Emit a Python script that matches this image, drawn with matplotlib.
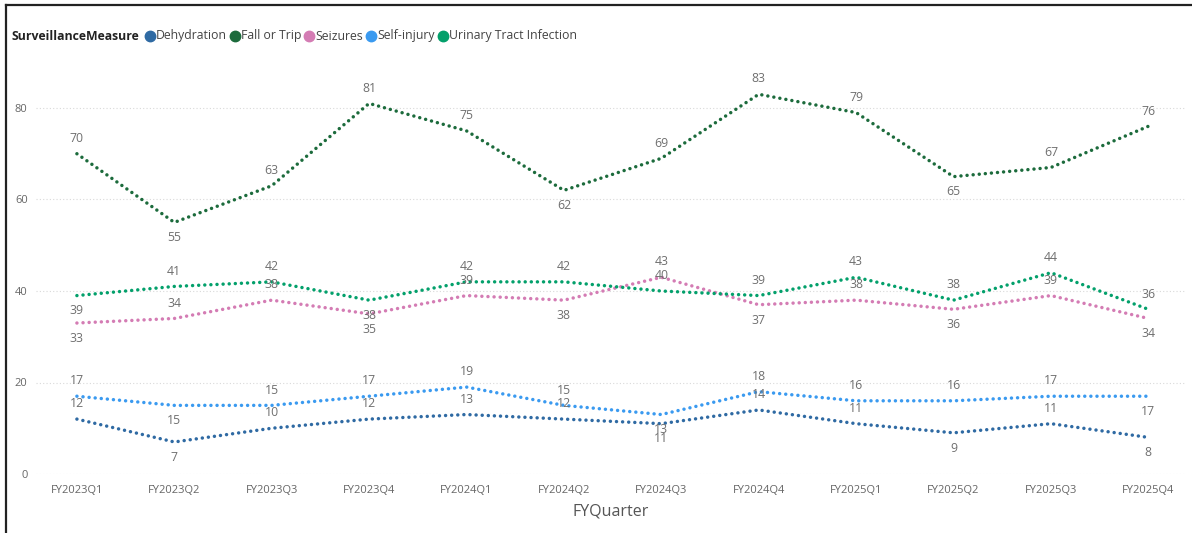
import matplotlib
matplotlib.use("Agg")
import matplotlib.pyplot as plt
from matplotlib.lines import Line2D

# ---- data -------------------------------------------------------------
quarters = ["FY2023Q1", "FY2023Q2", "FY2023Q3", "FY2023Q4",
            "FY2024Q1", "FY2024Q2", "FY2024Q3", "FY2024Q4",
            "FY2025Q1", "FY2025Q2", "FY2025Q3", "FY2025Q4"]

measures = ["Dehydration", "Fall or Trip", "Seizures", "Self-injury",
            "Urinary Tract Infection"]

dehydration = [12, 7, 10, 12, 13, 12, 11, 14, 11, 9, 11, 8]
fall_or_trip = [70, 55, 63, 81, 75, 62, 69, 83, 79, 65, 67, 76]
seizures = [33, 34, 38, 35, 39, 38, 43, 37, 38, 36, 39, 34]
self_injury = [17, 15, 15, 17, 19, 15, 13, 18, 16, 16, 17, 17]
uti = [39, 41, 42, 38, 42, 42, 40, 39, 43, 38, 44, 36]

y_ticks = [0, 20, 40, 60, 80]

# ---- styling ------------------------------------------------------------
colors = {
    "Dehydration": "#2F6AA3",
    "Fall or Trip": "#1C6B3C",
    "Seizures": "#D47CB4",
    "Self-injury": "#3A9AF0",
    "Urinary Tract Infection": "#03A06B",
}
# data-label side for each point: 'a' above, 'b' below
label_side = {
    "Dehydration":             "abaaaabaabab",
    "Fall or Trip":            "abaaabaaabaa",
    "Seizures":                "baabababab ab".replace(" ", ""),
    "Self-injury":             "abaaaabaaaab",
    "Urinary Tract Infection": "baabaaaaaaaa",
}
series = {
    "Dehydration": dehydration,
    "Fall or Trip": fall_or_trip,
    "Seizures": seizures,
    "Self-injury": self_injury,
    "Urinary Tract Infection": uti,
}

FONT = ["Open Sans", "DejaVu Sans"]
plt.rcParams["font.family"] = FONT

W, H = 1192, 533
fig = plt.figure(figsize=(W / 100, H / 100), dpi=100)
fig.patch.set_facecolor("white")


def fx(px):
    return px / W


def fy(py):
    return 1 - py / H


# plot area (pixel bounds)
left_px, right_px, top_px, bottom_px = 36, 1186, 62, 474
ax = fig.add_axes([fx(left_px), fy(bottom_px),
                   fx(right_px - left_px), (bottom_px - top_px) / H])
ax.set_facecolor("none")

x = list(range(len(quarters)))
x_left = -0.42
ax.set_xlim(x_left, x_left + (right_px - left_px) / 97.4)
ax.set_ylim(0, (bottom_px - top_px) / 4.575)

for name in measures:
    ax.plot(x, series[name], color=colors[name], lw=2.5,
            linestyle=(0, (0.01, 1.75)), dash_capstyle="round",
            solid_capstyle="round", zorder=3)

for name in measures:
    for xi, v, side in zip(x, series[name], label_side[name]):
        off = 11 if side == "a" else -11
        ax.annotate(str(v), (xi, v), xytext=(0, off),
                    textcoords="offset points", ha="center", va="center",
                    fontsize=8.8, color="#6f6f6f", zorder=4)

# axes decoration
for s in ax.spines.values():
    s.set_visible(False)
ax.set_yticks(y_ticks)
ax.set_xticks(x)
ax.set_xticklabels(quarters)
ax.tick_params(axis="both", length=0, labelsize=8, labelcolor="#666666")
ax.tick_params(axis="x", pad=8)
ax.tick_params(axis="y", pad=6)
ax.grid(axis="y", color="#d9d9d9", linestyle=(0, (1, 2)), lw=0.8)
ax.grid(axis="x", visible=False)
ax.set_xlabel("FYQuarter", fontsize=11.5, color="#555555", labelpad=5)

# visual frame (left and top edges)
fig.add_artist(Line2D([fx(6), fx(6)], [fy(5), 0], color="#222222", lw=1.6))
fig.add_artist(Line2D([fx(6), 1], [fy(5), fy(5)], color="#222222", lw=1.6))

# legend row
renderer = fig.canvas.get_renderer()
ly = fy(36)
t = fig.text(fx(12), ly, "SurveillanceMeasure", fontsize=8.8,
             fontweight="bold", color="#222222", va="center", ha="left")
cur = t.get_window_extent(renderer).x1 + 5
for name in measures:
    fig.add_artist(Line2D([fx(cur + 5)], [ly], marker="o", markersize=7.5,
                          color=colors[name], lw=0))
    t = fig.text(fx(cur + 11), ly, name, fontsize=8.8, color="#444444",
                 va="center", ha="left")
    cur = t.get_window_extent(renderer).x1 + 3

fig.savefig("out.png", dpi=100, facecolor="white")
